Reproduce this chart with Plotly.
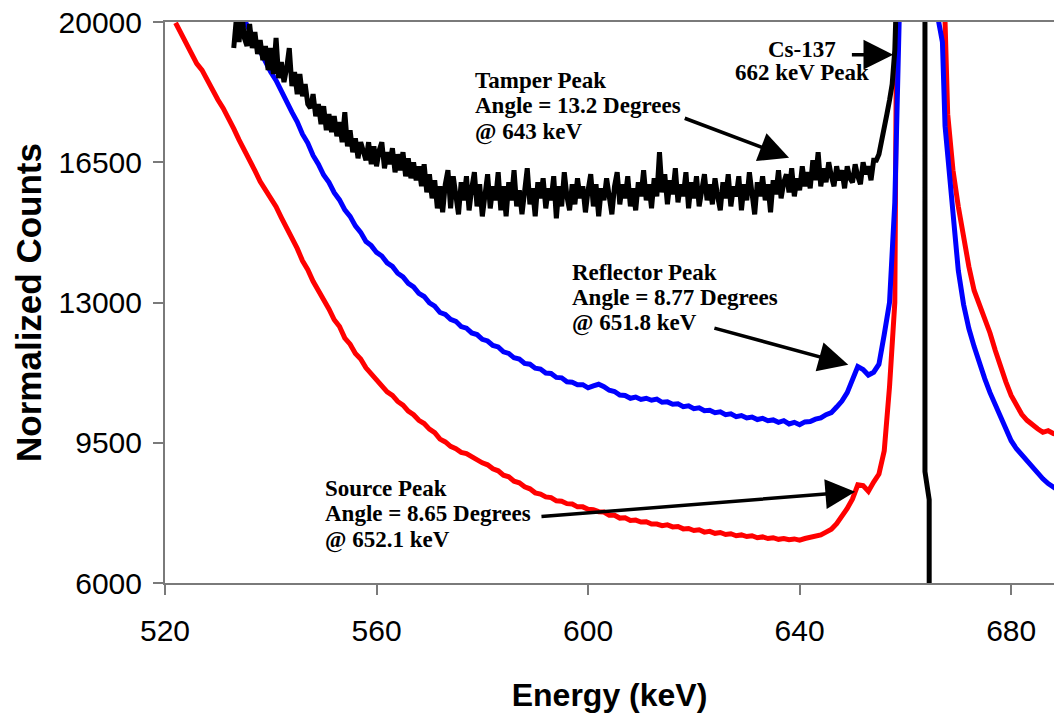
import plotly.graph_objects as go

# ---------------- data ----------------
red_energy = [522, 523, 524, 525, 526, 527, 528, 529, 530, 531,
              532, 533, 534, 535, 536, 537, 538, 539, 540, 541,
              542, 543, 544, 545, 546, 547, 548, 549, 550, 551,
              552, 553, 554, 555, 556, 557, 558, 559, 560, 561,
              562, 563, 564, 565, 566, 567, 568, 569, 570, 571,
              572, 573, 574, 575, 576, 577, 578, 579, 580, 581,
              582, 583, 584, 585, 586, 587, 588, 589, 590, 591,
              592, 593, 594, 595, 596, 597, 598, 599, 600, 601,
              602, 603, 604, 605, 606, 607, 608, 609, 610, 611,
              612, 613, 614, 615, 616, 617, 618, 619, 620, 621,
              622, 623, 624, 625, 626, 627, 628, 629, 630, 631,
              632, 633, 634, 635, 636, 637, 638, 639, 640, 641,
              642, 643, 644, 645, 646, 647, 648, 649, 650, 651,
              652, 653, 654, 655, 656, 657, 658, 658.5, 659, 659.5,
              666.5, 667.3, 667.5, 668, 669, 670, 671, 672, 673, 674,
              675, 676, 677, 678, 679, 680, 681, 682, 683, 684,
              685, 686, 687, 688, 688.5]
red_counts = [19980, 19720, 19430, 19210, 18960, 18800, 18540, 18330, 18060, 17850,
              17560, 17340, 17060, 16820, 16520, 16290, 16020, 15810, 15580, 15390,
              15120, 14880, 14590, 14350, 14040, 13820, 13530, 13310, 13030, 12840,
              12570, 12400, 12110, 11960, 11730, 11590, 11370, 11230, 11050, 10950,
              10770, 10680, 10530, 10440, 10290, 10200, 10060, 9980, 9840, 9750,
              9590, 9520, 9410, 9350, 9260, 9230, 9150, 9100, 9000, 8950,
              8850, 8800, 8690, 8650, 8540, 8500, 8400, 8350, 8250, 8220,
              8150, 8130, 8050, 8040, 7980, 7970, 7900, 7900, 7840, 7830,
              7780, 7770, 7690, 7690, 7620, 7630, 7560, 7570, 7520, 7530,
              7470, 7470, 7430, 7450, 7400, 7410, 7350, 7360, 7310, 7330,
              7270, 7290, 7240, 7260, 7210, 7230, 7180, 7200, 7160, 7180,
              7130, 7150, 7110, 7130, 7090, 7110, 7080, 7100, 7070, 7110,
              7130, 7180, 7200, 7270, 7340, 7480, 7650, 7860, 8100, 8450,
              8430, 8290, 8520, 8720, 9300, 10900, 13000, 16500, 21500, 45000,
              45000, 21000, 20000, 17700, 16300, 15400, 14600, 13900, 13300, 12950,
              12550, 12240, 11800, 11380, 11020, 10680, 10420, 10210, 10060, 9940,
              9850, 9760, 9800, 9730, 9720]

blue_energy = [535, 536, 537, 538, 539, 540, 541, 542, 543, 544,
               545, 546, 547, 548, 549, 550, 551, 552, 553, 554,
               555, 556, 557, 558, 559, 560, 561, 562, 563, 564,
               565, 566, 567, 568, 569, 570, 571, 572, 573, 574,
               575, 576, 577, 578, 579, 580, 581, 582, 583, 584,
               585, 586, 587, 588, 589, 590, 591, 592, 593, 594,
               595, 596, 597, 598, 599, 600, 601, 602, 603, 604,
               605, 606, 607, 608, 609, 610, 611, 612, 613, 614,
               615, 616, 617, 618, 619, 620, 621, 622, 623, 624,
               625, 626, 627, 628, 629, 630, 631, 632, 633, 634,
               635, 636, 637, 638, 639, 640, 641, 642, 643, 644,
               645, 646, 647, 648, 649, 650, 651, 652, 653, 654,
               655, 656, 657, 658, 658.5, 659, 659.5,
               665.8, 666.3, 667, 667.5, 668, 668.5, 669, 670, 671, 672,
               673, 674, 675, 676, 677, 678, 679, 680, 681, 682,
               683, 684, 685, 686, 687, 688, 688.5]
blue_counts = [20050, 19780, 19540, 19250, 19040, 18750, 18540, 18260, 18050, 17750,
               17510, 17200, 16980, 16670, 16450, 16180, 16000, 15740, 15560, 15310,
               15150, 14910, 14750, 14520, 14420, 14250, 14160, 13990, 13900, 13730,
               13640, 13480, 13390, 13230, 13150, 12990, 12910, 12750, 12700, 12580,
               12530, 12400, 12360, 12240, 12200, 12080, 12040, 11930, 11890, 11770,
               11730, 11620, 11590, 11480, 11460, 11360, 11340, 11240, 11230, 11130,
               11120, 11020, 11010, 10950, 10950, 10870, 10920, 10960, 10900, 10810,
               10780, 10690, 10680, 10610, 10640, 10580, 10610, 10560, 10590, 10510,
               10520, 10460, 10470, 10400, 10420, 10350, 10370, 10300, 10310, 10250,
               10270, 10200, 10220, 10150, 10180, 10120, 10140, 10080, 10110, 10050,
               10070, 10010, 10050, 9970, 10010, 9950, 10020, 10030, 10090, 10120,
               10200, 10250, 10390, 10540, 10750, 11040, 11400, 11330, 11190, 11260,
               11460, 12200, 13000, 15500, 17500, 21000, 45000,
               45000, 20000, 19500, 17400, 16700, 15730, 15000, 13800, 12950, 12350,
               11900, 11450, 11100, 10750, 10450, 10150, 9800, 9550, 9350, 9200,
               9030, 8870, 8720, 8600, 8480, 8380, 8350]

black_energy = [533.0, 533.5, 534.0, 534.5, 535.0, 535.5, 536.0, 536.5, 537.0, 537.5,
                538.0, 538.5, 539.0, 539.5, 540.0, 540.5, 541.0, 541.5, 542.0, 542.5,
                543.0, 543.5, 544.0, 544.5, 545.0, 545.5, 546.0, 546.5, 547.0, 547.5,
                548.0, 548.5, 549.0, 549.5, 550.0, 550.5, 551.0, 551.5, 552.0, 552.5,
                553.0, 553.5, 554.0, 554.5, 555.0, 555.5, 556.0, 556.5, 557.0, 557.5,
                558.0, 558.5, 559.0, 559.5, 560.0, 560.5, 561.0, 561.5, 562.0, 562.5,
                563.0, 563.5, 564.0, 564.5, 565.0, 565.5, 566.0, 566.5, 567.0, 567.5,
                568.0, 568.5, 569.0, 569.5, 570.0, 570.5, 571.0, 571.5, 572.0, 572.5,
                573.0, 573.5, 574.0, 574.5, 575.0, 575.5, 576.0, 576.5, 577.0, 577.5,
                578.0, 578.5, 579.0, 579.5, 580.0, 580.5, 581.0, 581.5, 582.0, 582.5,
                583.0, 583.5, 584.0, 584.5, 585.0, 585.5, 586.0, 586.5, 587.0, 587.5,
                588.0, 588.5, 589.0, 589.5, 590.0, 590.5, 591.0, 591.5, 592.0, 592.5,
                593.0, 593.5, 594.0, 594.5, 595.0, 595.5, 596.0, 596.5, 597.0, 597.5,
                598.0, 598.5, 599.0, 599.5, 600.0, 600.5, 601.0, 601.5, 602.0, 602.5,
                603.0, 603.5, 604.0, 604.5, 605.0, 605.5, 606.0, 606.5, 607.0, 607.5,
                608.0, 608.5, 609.0, 609.5, 610.0, 610.5, 611.0, 611.5, 612.0, 612.5,
                613.0, 613.5, 614.0, 614.5, 615.0, 615.5, 616.0, 616.5, 617.0, 617.5,
                618.0, 618.5, 619.0, 619.5, 620.0, 620.5, 621.0, 621.5, 622.0, 622.5,
                623.0, 623.5, 624.0, 624.5, 625.0, 625.5, 626.0, 626.5, 627.0, 627.5,
                628.0, 628.5, 629.0, 629.5, 630.0, 630.5, 631.0, 631.5, 632.0, 632.5,
                633.0, 633.5, 634.0, 634.5, 635.0, 635.5, 636.0, 636.5, 637.0, 637.5,
                638.0, 638.5, 639.0, 639.5, 640.0, 640.5, 641.0, 641.5, 642.0, 642.5,
                643.0, 643.5, 644.0, 644.5, 645.0, 645.5, 646.0, 646.5, 647.0, 647.5,
                648.0, 648.5, 649.0, 649.5, 650.0, 650.5, 651.0, 651.5, 652.0, 652.5,
                653.0, 653.5, 654.0, 654.5, 655.0, 655.5, 656.0, 656.5, 657.0, 657.5,
                658.0, 658.5, 659.0, 663.7, 663.7, 664.5, 664.5]
black_counts = [19350, 20100, 19500, 20300, 19600, 19400, 19950, 19350, 19750, 19200,
                19550, 19050, 19400, 18800, 19350, 18700, 19600, 18600, 19000, 18500,
                18850, 19350, 18400, 18750, 18200, 18700, 18150, 18450, 17950, 17850,
                18200, 17650, 17950, 17450, 17900, 17300, 17700, 17250, 17650, 17150,
                17500, 17000, 17750, 16900, 17300, 16750, 17100, 16600, 17000, 16750,
                16550, 17000, 16450, 16900, 16400, 16800, 17000, 16350, 16750, 16450,
                16850, 16250, 16700, 16300, 16750, 16150, 16600, 16100, 16500, 16050,
                16400, 15900, 16450, 15750, 16200, 15600, 16050, 15350, 15900, 15250,
                15950, 16300, 15350, 16150, 15650, 15200, 16000, 15550, 16150, 15300,
                15850, 16250, 15400, 15950, 15150, 15800, 16200, 15350, 15900, 15550,
                16250, 15300, 15900, 15150, 16000, 15550, 16300, 15400, 15800, 15200,
                15950, 16350, 15450, 15850, 15150, 16000, 15600, 16100, 15350, 15850,
                15550, 16150, 15100, 15900, 15400, 16250, 15650, 15300, 15950, 15450,
                16100, 15600, 15900, 15250, 15800, 16200, 15400, 15950, 15150, 15850,
                15550, 16100, 15650, 15200, 15900, 16250, 15450, 15950, 15600, 16150,
                15400, 15850, 15300, 16000, 15650, 16300, 15550, 15950, 15350, 16100,
                15650, 16750, 15750, 16200, 15450, 16050, 15700, 16350, 15500, 15950,
                15650, 16250, 15350, 16000, 15600, 16150, 15400, 15900, 16200, 15550,
                15950, 15450, 16100, 15650, 15300, 16000, 15600, 16200, 15400, 15900,
                15650, 16150, 15300, 15950, 15550, 16250, 15700, 15200, 16000, 15650,
                16150, 15550, 15950, 15250, 16050, 15700, 16300, 15600, 16000, 16200,
                15750, 16350, 15650, 16100, 15800, 16400, 15900, 16250, 15850, 16550,
                16050, 16750, 15900, 16350, 16000, 16500, 16150, 15900, 16400, 16050,
                16300, 15850, 16400, 16100, 16000, 16450, 16150, 15950, 16500, 16200,
                16400, 16050, 16550, 16550, 16700, 17000, 17350, 17700, 18050, 18450,
                19300, 21500, 45000, 45000, 8780, 8080, 0]

x_ticks = [520, 560, 600, 640, 680]
y_ticks = [6000, 9500, 13000, 16500, 20000]
y_tick_text = ["6000", "9500", "13000", "16500", "20000"]

# annotation lines: one entry per text line (left-aligned blocks), in data units
label_lines = ["Tamper Peak", "Angle = 13.2 Degrees", "@ 643 keV",
               "Reflector Peak", "Angle = 8.77 Degrees", "@ 651.8 keV",
               "Source Peak", "Angle = 8.65 Degrees", "@ 652.1 keV"]
label_x = [578.3, 578.3, 578.3, 596.6, 596.6, 596.6, 549.9, 549.9, 549.9]
label_y = [18528, 17904, 17262, 13743, 13119, 12495, 8353, 7729, 7080]
cs_lines = ["Cs-137", "662 keV Peak"]
cs_x = [640.4, 640.4]
cs_y = [19309, 18735]
arrow_tail_x = [649.6, 618.0, 623.6, 590.9]
arrow_tail_y = [19184, 17612, 12371, 7654]
arrow_head_x = [657.7, 638.0, 649.2, 650.5]
arrow_head_y = [19184, 16613, 11448, 8278]

# ---------------- figure ----------------
fig = go.Figure()
for xs, ys, col in [(red_energy, red_counts, "#ff0000"),
                    (blue_energy, blue_counts, "#0000ff"),
                    (black_energy, black_counts, "#000000")]:
    fig.add_trace(go.Scatter(x=xs, y=ys, mode="lines",
                             line=dict(color=col, width=5),
                             hoverinfo="skip", showlegend=False))

ann_font = dict(family="Liberation Serif", size=23, color="black")
for t, x, y in zip(label_lines, label_x, label_y):
    fig.add_annotation(x=x, y=y, xref="x", yref="y", text="<b>" + t + "</b>",
                       showarrow=False, xanchor="left", yanchor="middle",
                       align="left", font=ann_font)
for t, x, y in zip(cs_lines, cs_x, cs_y):
    fig.add_annotation(x=x, y=y, xref="x", yref="y", text="<b>" + t + "</b>",
                       showarrow=False, xanchor="center", yanchor="middle",
                       align="center", font=ann_font)
for tx, ty, hx, hy in zip(arrow_tail_x, arrow_tail_y, arrow_head_x, arrow_head_y):
    fig.add_annotation(x=hx, y=hy, ax=tx, ay=ty, xref="x", yref="y",
                       axref="x", ayref="y", text="", showarrow=True,
                       arrowhead=2, arrowsize=1.7, arrowwidth=3.5,
                       arrowcolor="black", standoff=0)

axis_line = "#7a7a7a"
fig.update_xaxes(range=[520, 688.1], tickvals=x_ticks, ticks="outside",
                 ticklen=10, tickwidth=2, tickcolor=axis_line,
                 showline=True, linecolor=axis_line, linewidth=2, mirror=True,
                 showgrid=False, zeroline=False, ticklabelstandoff=10,
                 automargin=False,
                 tickfont=dict(family="Liberation Sans", size=30, color="black"),
                 title=dict(text="<b>Energy (keV)</b>", standoff=38,
                            font=dict(family="Liberation Sans", size=32, color="black")))
fig.update_yaxes(range=[6000, 20000], tickvals=y_ticks, ticktext=y_tick_text,
                 ticks="outside",
                 ticklen=10, tickwidth=2, tickcolor=axis_line,
                 showline=True, linecolor=axis_line, linewidth=2,
                 showgrid=False, zeroline=False, ticklabelstandoff=5,
                 automargin=False,
                 tickfont=dict(family="Liberation Sans", size=30, color="black"),
                 title=dict(text="<b>Normalized Counts</b>", standoff=6,
                            font=dict(family="Liberation Sans", size=35, color="black")))
fig.update_layout(width=1054, height=719, margin=dict(l=165, r=0, t=22, b=136),
                  paper_bgcolor="white", plot_bgcolor="white", showlegend=False)

# remove the default 8px page margin so the figure fills the window exactly
fig.write_html("out.html", config={"displayModeBar": False},
               post_script="document.body.style.margin='0px';")
